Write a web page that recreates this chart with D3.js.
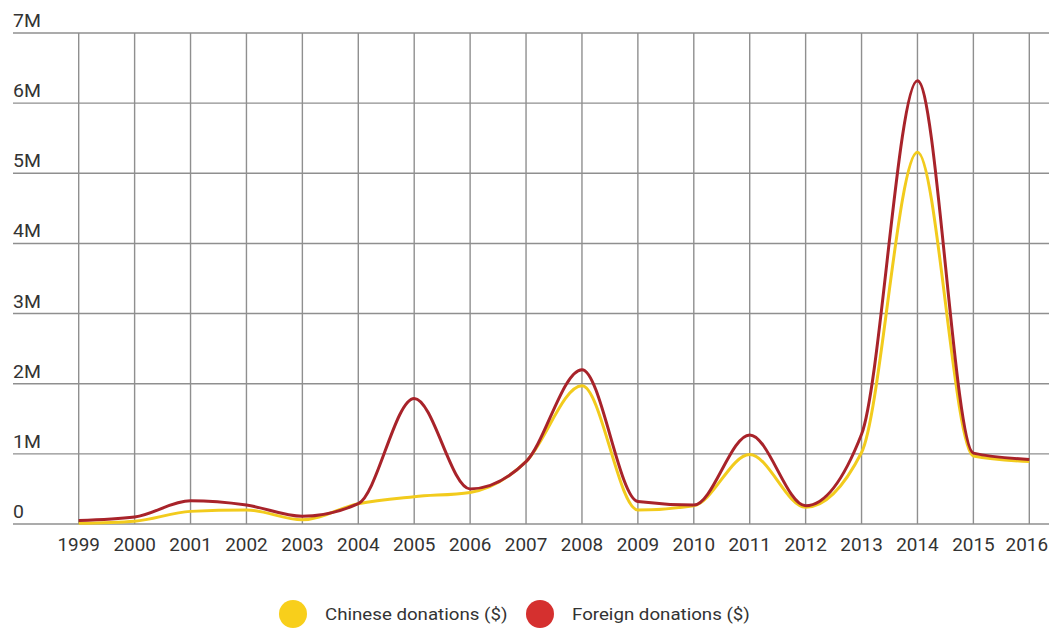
<!DOCTYPE html>
<html>
<head>
<meta charset="utf-8">
<script src="https://cdn.jsdelivr.net/npm/d3@7"></script>
<style>
  body { margin: 0; background: #fff; }
  text { font-family: Roboto, "Noto Sans", sans-serif; fill: #333; }
</style>
</head>
<body>
<svg id="chart" width="1049" height="628"></svg>
<script>
// years along the bottom axis
const years = [1999, 2000, 2001, 2002, 2003, 2004, 2005, 2006, 2007, 2008,
               2009, 2010, 2011, 2012, 2013, 2014, 2015, 2016];

// donations, millions of dollars
const chineseDonations = [0.01, 0.04, 0.18, 0.20, 0.06, 0.29, 0.39, 0.45, 0.89, 1.97,
                          0.20, 0.26, 0.99, 0.24, 1.02, 5.30, 0.97, 0.89];
const foreignDonations = [0.05, 0.10, 0.33, 0.27, 0.11, 0.29, 1.79, 0.50, 0.89, 2.20,
                          0.32, 0.27, 1.27, 0.26, 1.28, 6.32, 1.01, 0.92];

const yTicks = [0, 1, 2, 3, 4, 5, 6, 7];

const series = [
    { name: 'Chinese donations ($)', values: chineseDonations, color: '#f2cb1d', dot: '#f8cf1b' },
    { name: 'Foreign donations ($)', values: foreignDonations, color: '#a8232a', dot: '#d5302f' },
];

const svg = d3.select('#chart');

// plot geometry
const left = 13, right = 1049;
const x = d3.scaleLinear().domain([1999, 2016]).range([78.7, 1029.3]);
const y = d3.scaleLinear().domain([0, 7]).range([524, 33]);
// the source picture is a little stretched sideways, text too
const stretch = 1.08;

const grid = svg.append('g').attr('class', 'grid');

// horizontal grid lines + value labels
grid.selectAll('line.h')
    .data(yTicks).enter()
    .append('line')
    .attr('class', 'h')
    .attr('x1', left).attr('x2', right)
    .attr('y1', d => y(d)).attr('y2', d => y(d))
    .style('stroke', '#8f8f8f')
    .style('stroke-width', 1.4);

svg.selectAll('text.ylab')
    .data(yTicks).enter()
    .append('text')
    .attr('class', 'ylab')
    .attr('transform', d => `translate(${left},${y(d) - 6}) scale(${stretch},1)`)
    .style('font-size', '18px')
    .text(d => d === 0 ? '0' : d + 'M');

// vertical grid lines for every year
grid.selectAll('line.v')
    .data(years).enter()
    .append('line')
    .attr('class', 'v')
    .attr('x1', d => x(d)).attr('x2', d => x(d))
    .attr('y1', y(7)).attr('y2', y(0))
    .style('stroke', '#8f8f8f')
    .style('stroke-width', 1.4);

const xLabels = svg.selectAll('text.xlab')
    .data(years).enter()
    .append('text')
    .attr('class', 'xlab')
    .attr('transform', d => `translate(${x(d)},551) scale(${stretch},1)`)
    .attr('text-anchor', 'middle')
    .style('font-size', '17.5px')
    .text(d => d);

// last label runs off the edge in the original; nudge it back inside
xLabels.each(function (d) {
    const half = this.getComputedTextLength() * stretch / 2;
    const cx = Math.min(x(d), right - 1 - half);
    d3.select(this).attr('transform', `translate(${cx},551) scale(${stretch},1)`);
});

// smooth lines
const line = d3.line()
    .x((d, i) => x(years[i]))
    .y(d => y(d))
    .curve(d3.curveMonotoneX);

svg.selectAll('path.series')
    .data(series).enter()
    .append('path')
    .attr('class', 'series')
    .attr('d', d => line(d.values))
    .style('fill', 'none')
    .style('stroke', d => d.color)
    .style('stroke-width', 3)
    .style('stroke-linejoin', 'round');

// legend
const legend = svg.append('g').attr('class', 'legend');
const legendX = [293, 540];

series.forEach((s, i) => {
    const item = legend.append('g').attr('transform', `translate(${legendX[i]},614)`);
    item.append('circle').attr('r', 14).style('fill', s.dot);
    item.append('text')
        .attr('transform', `translate(32,6) scale(1.1,1)`)
        .style('font-size', '17px')
        .text(s.name);
});
</script>
</body>
</html>
